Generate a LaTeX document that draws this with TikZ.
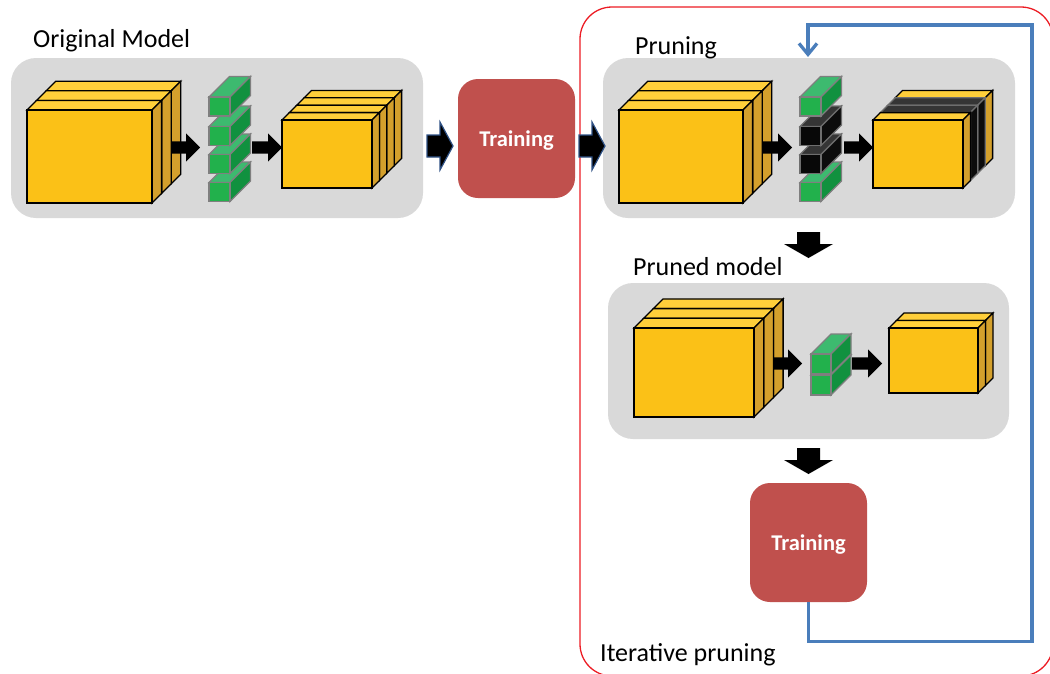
\documentclass[tikz,border=0pt]{standalone}
\usepackage{fontspec}
\setmainfont{Carlito}
\usetikzlibrary{arrows.meta}
\definecolor{YF}{HTML}{FBC117}
\definecolor{YT}{HTML}{FFCF3A}
\definecolor{YS}{HTML}{D4A02C}
\definecolor{YD}{HTML}{000000}
\definecolor{KF}{HTML}{080808}
\definecolor{KT}{HTML}{353535}
\definecolor{KS}{HTML}{0C0C0C}
\definecolor{KD}{HTML}{6E6E6E}
\definecolor{GF}{HTML}{22B14C}
\definecolor{GT}{HTML}{3DBA6F}
\definecolor{GS}{HTML}{11913F}
\definecolor{GD}{HTML}{7F7F7F}
\definecolor{boxgray}{HTML}{D9D9D9}
\definecolor{trainred}{HTML}{C0504D}
\definecolor{loopblue}{HTML}{4A7EBB}
\definecolor{arrowedge}{HTML}{2F5286}
\definecolor{framered}{HTML}{EC1C24}
\tikzset{
  graybox/.style={fill=boxgray, rounded corners=25pt, inner sep=0pt},
  trainbox/.style={fill=trainred, rounded corners=20pt, minimum width=117pt, minimum height=119pt,
    text=white, font=\fontsize{22.5}{27}\selectfont\bfseries, inner sep=0pt, text depth=0pt},
  lbl/.style={font=\fontsize{26}{31}\selectfont, inner sep=0pt, anchor=base west},
  slabline/.style={line width=1.3pt},
  blueloop/.style={draw=loopblue, line width=3.3pt, -{Straight Barb[length=11pt,width=18pt]}},
  frame/.style={draw=framered, line width=1.3pt, rounded corners=32pt},
  edgearrow/.style={fill=black, draw=arrowedge, line width=1.2pt}
}
% one slab: x, y (top-left of front face), w, h, depth, colour prefix
\newcommand\slabone[6]{%
  \filldraw[slabline,draw=#6D,fill=#6T] ({#1},{#2}) -- ++({#5},{-#5}) -- ++({#3},0) -- ++({-#5},{#5}) -- cycle;
  \filldraw[slabline,draw=#6D,fill=#6S] ({#1+#3},{#2}) -- ++({#5},{-#5}) -- ++(0,{#4}) -- ++({-#5},{#5}) -- cycle;
  \filldraw[slabline,draw=#6D,fill=#6F] ({#1},{#2}) rectangle ++({#3},{#4});
}
% stack of slabs: x, y, w, h, depth, list of colour prefixes back to front
\newcommand\cubestack[6]{%
  \foreach \c [count=\i] in {#6} {\xdef\nslabs{\i}}%
  \foreach \c [count=\i] in {#6} {%
    \pgfmathsetmacro\sx{#1+(\nslabs-\i)*#5}%
    \pgfmathsetmacro\sy{#2-(\nslabs-\i)*#5}%
    \slabone{\sx}{\sy}{#3}{#4}{#5}{\c}%
  }%
}
% right block arrow: [style] tail, tip, cy, shaft half, head half, head length
\newcommand\rarrow[7][fill=black,draw=none]{%
  \filldraw[#1] ({#2},{#4-#5}) -- ({#3-#7},{#4-#5}) -- ({#3-#7},{#4-#6}) -- ({#3},{#4})
    -- ({#3-#7},{#4+#6}) -- ({#3-#7},{#4+#5}) -- ({#2},{#4+#5}) -- cycle;
}
% down block arrow: cx, top, tip, shaft half, head half, head length
\newcommand\darrow[6]{%
  \fill ({#1-#4},{#2}) -- ({#1+#4},{#2}) -- ({#1+#4},{#3-#6}) -- ({#1+#5},{#3-#6}) -- ({#1},{#3})
    -- ({#1-#5},{#3-#6}) -- ({#1-#4},{#3-#6}) -- cycle;
}
\begin{document}
\begin{tikzpicture}[x=1pt,y=-1pt]
\useasboundingbox (0,0) rectangle (1050,673);
\clip (0,0) rectangle (1050,673);
% iterative pruning frame
\draw[frame] (580,7) rectangle (1053,676);
% grey panels
\node[graybox, minimum width=412pt, minimum height=160pt] (orig) at (217,138) {};
\node[graybox, minimum width=412pt, minimum height=160pt] (prun) at (809,138) {};
\node[graybox, minimum width=401pt, minimum height=156pt] (pruned) at (808.5,361) {};
% labels
\node[lbl] (origlbl) at (33,47.5) {Original Model};
\node[lbl] (prunlbl) at (635,54) {Pruning};
\node[lbl] (prunedlbl) at (633,275) {Pruned model};
\node[lbl] (iterlbl) at (600,661) {Iterative pruning};
% training boxes
\node[trainbox] (train1) at (516.5,138.5) {Training};
\node[trainbox] (train2) at (808.5,542.5) {Training};
% original model
\cubestack{27}{110}{125}{93}{9.6}{Y,Y,Y}
\slabone{209}{182.5}{21}{19}{20.5}{G}
\slabone{209}{154.5}{21}{19}{20.5}{G}
\slabone{209}{126.5}{21}{19}{20.5}{G}
\slabone{209}{97}{21}{19}{20.5}{G}
\cubestack{282}{120}{90}{68}{7.4}{Y,Y,Y,Y}
\rarrow{171}{200}{147.5}{6.2}{14.2}{14}
\rarrow{252}{282}{147.5}{6.2}{14.2}{14}
% pruning
\cubestack{619}{110}{124}{93}{9.6}{Y,Y,Y}
\slabone{800}{182.5}{21}{19}{20.5}{G}
\slabone{800}{154.5}{21}{19}{20.5}{K}
\slabone{800}{126.5}{21}{19}{20.5}{K}
\slabone{800}{97}{21}{19}{20.5}{G}
\cubestack{873}{120}{90}{68}{7.4}{Y,K,K,Y}
\rarrow{762}{792}{147.5}{6.2}{14.2}{14}
\rarrow{844}{873}{147.5}{6.2}{14.2}{14}
% pruned model
\cubestack{634}{328}{120}{89}{9.7}{Y,Y,Y}
\slabone{811}{375}{20}{20}{20}{G}
\slabone{811}{354}{20}{20}{20}{G}
\cubestack{889}{328}{89}{65}{7.5}{Y,Y}
\rarrow{773}{802}{363.5}{6.2}{14.2}{14}
\rarrow{852}{882}{363.5}{6.2}{14.2}{14}
% arrows between stages
\rarrow[edgearrow]{427}{453}{146}{11}{24}{13}
\rarrow[edgearrow]{579}{605}{146}{11}{24}{13}
\darrow{808.5}{232}{258}{11.5}{24.5}{14}
\darrow{808.5}{448}{474}{11.5}{24.5}{14}
% feedback loop
\coordinate (loopend) at (808,57);
\draw[blueloop] (train2.south) -- ++(0,39) -| (1032,25) -| (loopend);
\end{tikzpicture}
\end{document}
